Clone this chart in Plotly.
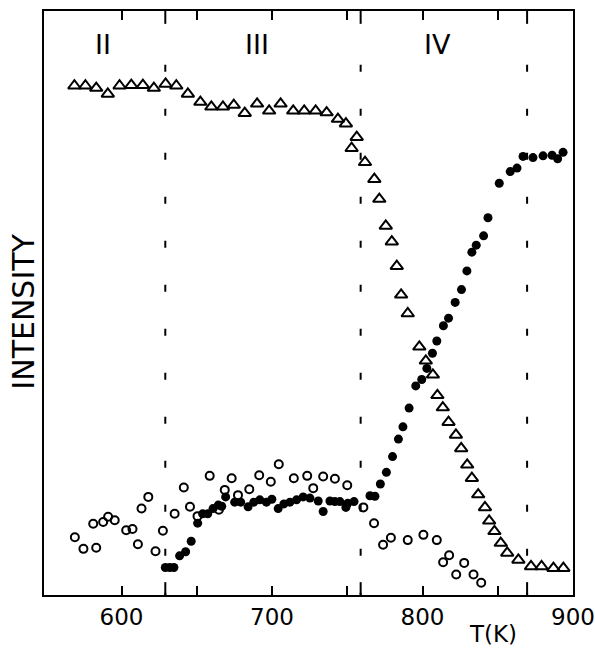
import plotly.graph_objects as go

# --- data (temperature K, intensity arbitrary units 0-100) ---
tri_T = [568.7, 576.0, 583.2, 590.9, 598.7, 606.5, 614.2, 621.5, 629.3, 636.4,
         644.1, 652.4, 659.7, 667.4, 674.6, 681.9, 690.1, 698.1, 705.7, 714.1,
         721.4, 729.0, 736.3, 743.8, 749.1, 756.3, 752.9, 761.8, 768.0, 771.3,
         775.6, 779.6, 782.9, 785.8, 790.2, 797.9, 802.2, 806.9, 809.9, 813.5,
         817.3, 822.2, 825.7, 829.7, 832.8, 837.0, 841.5, 844.3, 847.8, 852.0,
         856.3, 863.7, 872.1, 879.1, 887.0, 893.6]
tri_I = [87.2, 87.2, 86.8, 85.8, 87.2, 87.3, 87.3, 86.8, 87.5, 87.2,
         85.8, 84.4, 83.6, 83.6, 83.9, 82.5, 84.1, 82.9, 84.1, 82.9,
         82.9, 82.9, 82.6, 81.5, 80.7, 78.4, 76.5, 74.1, 71.2, 67.8,
         63.2, 60.5, 56.3, 51.4, 48.2, 42.5, 40.1, 37.7, 34.2, 32.1,
         29.6, 27.4, 25.1, 22.3, 20.0, 17.2, 15.0, 12.7, 10.9, 8.9,
         7.2, 6.0, 4.9, 4.9, 4.6, 4.6]

full_T = [629.1, 632.0, 634.8, 638.6, 642.6, 646.3, 650.6, 653.9, 657.3, 660.8,
          664.3, 666.6, 669.2, 675.2, 679.2, 684.1, 687.9, 691.9, 696.3, 699.9,
          704.1, 707.9, 711.9, 716.3, 720.7, 725.2, 730.7, 734.0, 738.5, 741.8,
          745.1, 749.1, 750.3, 754.5, 765.1, 768.4, 772.0, 776.0, 780.1, 784.0,
          787.0, 791.1, 795.5, 799.5, 802.9, 806.6, 809.5, 813.9, 817.3, 821.7,
          825.9, 829.5, 832.8, 835.7, 840.6, 843.5, 851.0, 858.3, 862.8, 866.8,
          873.4, 880.1, 886.1, 889.8, 893.4]
full_I = [4.7, 4.7, 4.7, 6.7, 7.4, 9.2, 12.3, 13.9, 13.9, 14.8,
          15.4, 15.2, 16.8, 15.9, 15.9, 15.1, 15.9, 16.3, 15.9, 16.4,
          14.8, 15.6, 15.9, 16.3, 16.8, 16.6, 16.1, 14.3, 16.1, 16.0,
          16.0, 15.0, 15.7, 16.0, 17.0, 16.9, 19.0, 21.0, 23.7, 26.7,
          28.8, 32.0, 35.8, 36.9, 38.8, 41.4, 43.5, 46.1, 47.4, 50.1,
          52.3, 55.5, 58.7, 59.9, 61.5, 64.6, 70.5, 72.5, 73.1, 75.1,
          74.9, 75.2, 75.3, 74.7, 75.8]

open_T = [569.0, 574.7, 583.2, 581.2, 587.8, 591.1, 595.5, 603.1, 607.3, 610.9,
          613.3, 617.8, 622.6, 627.5, 635.3, 641.4, 645.5, 650.5, 658.6, 664.7,
          668.6, 673.2, 677.4, 684.9, 691.5, 699.2, 704.5, 714.5, 723.4, 727.4,
          734.0, 741.8, 750.0, 760.7, 767.8, 773.8, 779.0, 790.2, 800.6, 809.5,
          813.7, 817.7, 822.4, 827.7, 833.9, 839.0]
open_I = [9.9, 7.9, 8.1, 12.2, 12.5, 13.4, 12.8, 11.1, 11.3, 8.7,
          14.8, 16.8, 7.5, 11.0, 13.9, 18.4, 15.1, 13.5, 20.4, 14.6,
          18.0, 20.0, 17.1, 18.1, 20.5, 19.4, 22.4, 20.0, 20.4, 18.3,
          20.3, 19.9, 18.8, 15.0, 12.3, 8.6, 9.8, 9.4, 10.3, 9.4,
          5.6, 6.8, 3.5, 5.5, 3.5, 2.1]

boundaries = [629.1, 758.9, 869.5]
phase_labels = ["II", "III", "IV"]
phase_label_T = [587.4, 689.9, 810.0]
phase_label_I = 94.3

tick_vals = [600, 650, 700, 750, 800, 850, 900]
tick_text = ["600", "", "700", "", "800", "", "900"]

FONT = "DejaVu Sans"

fig = go.Figure()
fig.add_trace(go.Scatter(x=tri_T, y=tri_I, mode="markers",
                         marker=dict(symbol="triangle-up-open", size=11, color="black",
                                     line=dict(width=2, color="black")),
                         showlegend=False))
fig.add_trace(go.Scatter(x=open_T, y=open_I, mode="markers",
                         marker=dict(symbol="circle-open", size=8, color="black",
                                     line=dict(width=2, color="black")),
                         showlegend=False))
fig.add_trace(go.Scatter(x=full_T, y=full_I, mode="markers",
                         marker=dict(symbol="circle", size=9, color="black",
                                     line=dict(width=0)),
                         showlegend=False))

# dashed phase-boundary lines
for b in boundaries:
    fig.add_shape(type="line", xref="x", yref="y", x0=b, x1=b, y0=90.8, y1=0,
                  line=dict(color="black", width=2, dash="7px,37px"))
    fig.add_shape(type="line", xref="x", yref="paper", x0=b, x1=b, y0=0, y1=0.022,
                  line=dict(color="black", width=2))
    fig.add_shape(type="line", xref="x", yref="paper", x0=b, x1=b, y0=1, y1=0.978,
                  line=dict(color="black", width=2))

for lab, t in zip(phase_labels, phase_label_T):
    fig.add_annotation(x=t, y=phase_label_I, xref="x", yref="y", text=lab,
                       showarrow=False, xanchor="center", yanchor="middle",
                       font=dict(family=FONT, size=27, color="black"))

fig.add_annotation(x=-0.038, y=0.485, xref="paper", yref="paper", text="INTENSITY",
                   textangle=-90, showarrow=False, xanchor="center", yanchor="middle",
                   font=dict(family=FONT, size=30, color="black"))
fig.add_annotation(x=0.849, y=-0.066, xref="paper", yref="paper", text="T(K)",
                   showarrow=False, xanchor="center", yanchor="middle",
                   font=dict(family=FONT, size=23, color="black"))

fig.update_layout(
    width=595, height=649,
    margin=dict(l=44, r=22, t=11, b=54, autoexpand=False),
    paper_bgcolor="white", plot_bgcolor="white",
    xaxis=dict(range=[548.5, 900], showgrid=False, zeroline=False, automargin=False,
               showline=True, linecolor="black", linewidth=2, mirror="ticks",
               ticks="inside", ticklen=9, tickwidth=2, tickcolor="black",
               tickvals=tick_vals, ticktext=tick_text, ticklabeloverflow="allow",
               tickfont=dict(family=FONT, size=23, color="black")),
    yaxis=dict(range=[0, 100], showgrid=False, zeroline=False, automargin=False,
               showline=True, linecolor="black", linewidth=2, mirror=True,
               ticks="", showticklabels=False),
)

fig.write_html("out.html")
